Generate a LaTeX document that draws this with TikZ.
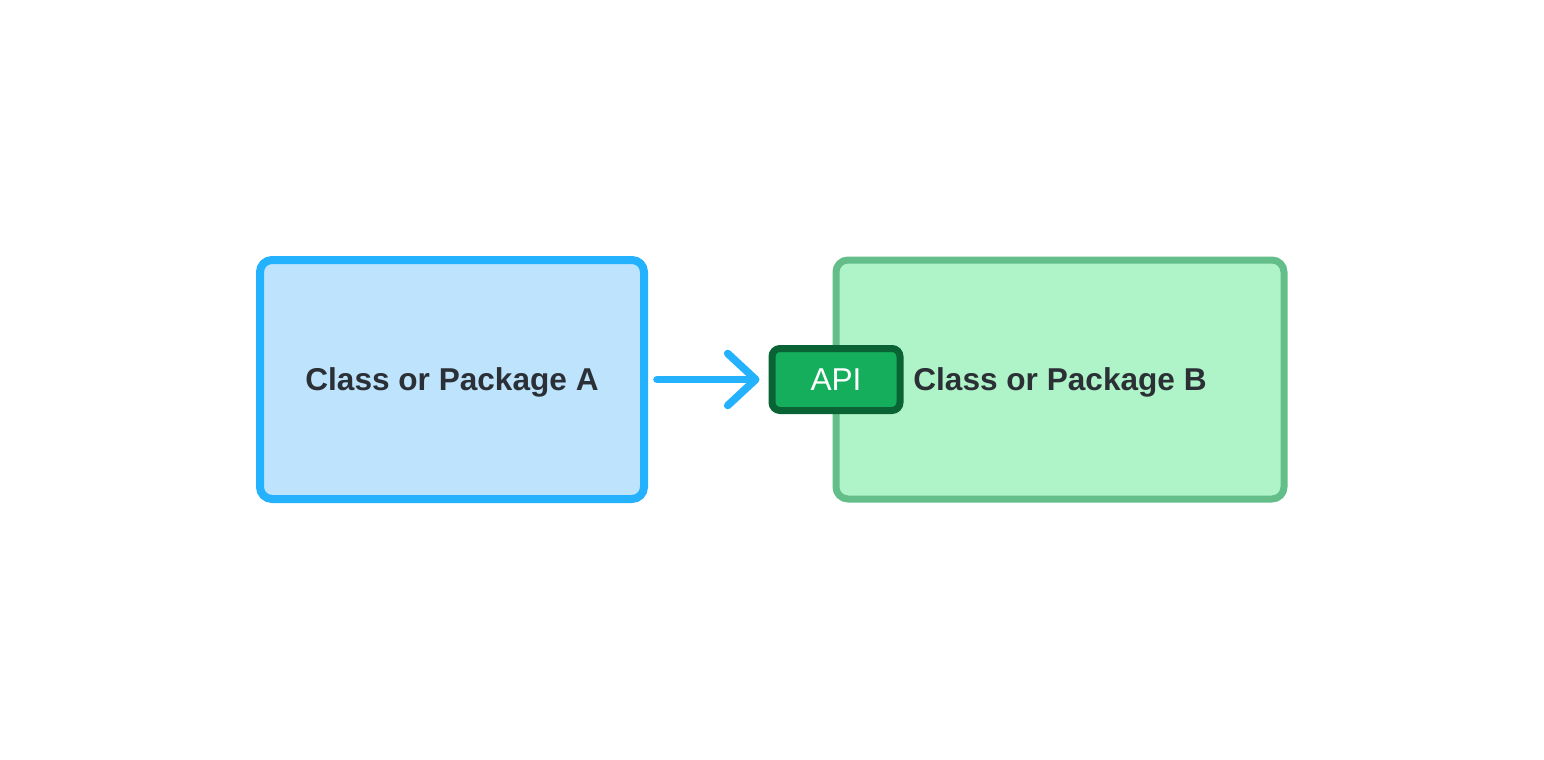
\documentclass[tikz,border=0pt]{standalone}
\usepackage{fontspec}
\setmainfont{Liberation Sans}
\usetikzlibrary{positioning,arrows.meta}
\definecolor{bluedge}{HTML}{24B1FD}
\definecolor{bluefill}{HTML}{BEE3FD}
\definecolor{grnedge}{HTML}{63BE8A}
\definecolor{grnfill}{HTML}{AFF4C8}
\definecolor{apifill}{HTML}{14AE5C}
\definecolor{apiedge}{HTML}{0A6334}
\definecolor{txt}{HTML}{2B3036}

\begin{document}
\begin{tikzpicture}[x=0.5pt,y=-0.5pt,
  pkg/.style={draw=#1,rounded corners=6pt,
    minimum height=119.5pt,outer sep=0pt,
    font=\fontsize{15.8pt}{19pt}\selectfont\bfseries,
    text height=11.3pt,text depth=0pt,
    text=txt,inner sep=0pt},
  api/.style={draw=apiedge,fill=apifill,line width=3.5pt,
    rounded corners=4pt,minimum width=64pt,minimum height=31pt,
    font=\fontsize{15.8pt}{19pt}\selectfont,text=white,
    text height=11.3pt,text depth=0pt,inner sep=0pt},
  uses/.style={draw=bluedge,line width=3.8pt,line cap=round,
    -{Straight Barb[length=14pt,width=26pt,round]},
    shorten <=6.5pt,shorten >=4.5pt}]
 \useasboundingbox (0,0) rectangle (1544,760);

 \node[pkg=bluedge,fill=bluefill,line width=4pt,minimum width=192pt]
   (pkgA) at (452,379.5) {Class or Package A};
 \node[pkg=grnedge,fill=grnfill,line width=3.5pt,minimum width=224pt]
   (pkgB) at (1060,379.5) {Class or Package B};
 \node[api] (api) at (pkgB.west) {API};

 \draw[uses] (pkgA) -- (api);

\end{tikzpicture}
\end{document}
